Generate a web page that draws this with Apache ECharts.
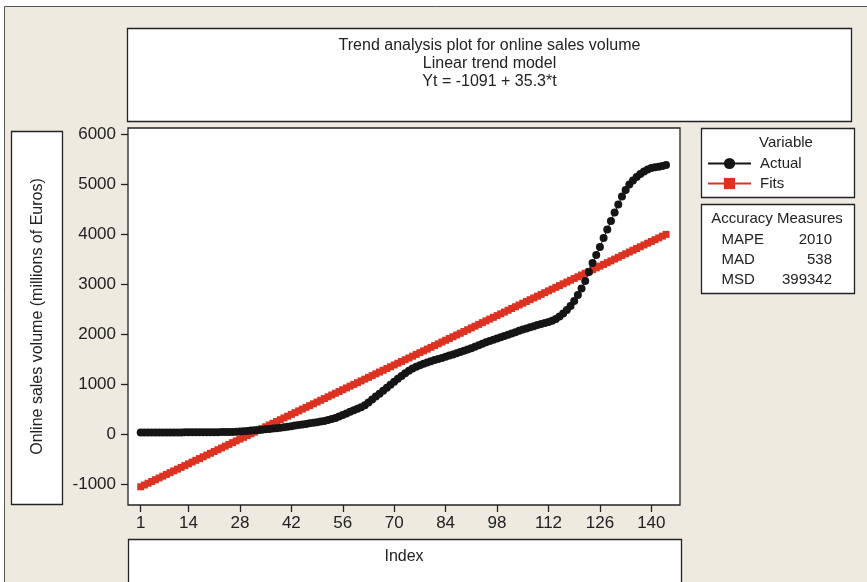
<!DOCTYPE html>
<html>
<head>
<meta charset="utf-8">
<script src="https://cdn.jsdelivr.net/npm/echarts@6/dist/echarts.min.js"></script>
<style>html,body{margin:0;padding:0;background:#fff}#c{width:867px;height:582px}</style>
</head>
<body>
<div id="c"></div>
<script>
// ---- data ----
const actual = [
  28,29,29,30,30,30,31,31,31,32,
  32,32,33,33,33,34,34,35,35,36,
  36,37,38,39,40,42,45,50,55,62,
  68,74,80,86,93,100,108,116,125,135,
  146,157,168,180,191,202,213,224,236,248,
  262,278,298,322,350,380,412,445,475,505,
  535,575,630,690,750,805,865,925,985,1045,
  1105,1160,1215,1265,1310,1345,1375,1405,1430,1455,
  1478,1500,1522,1545,1568,1590,1615,1640,1665,1690,
  1715,1745,1775,1805,1835,1860,1885,1910,1935,1960,
  1985,2010,2035,2065,2090,2110,2135,2155,2180,2200,
  2220,2240,2265,2300,2350,2410,2480,2560,2660,2780,
  2910,3060,3240,3420,3580,3740,3920,4090,4260,4430,
  4590,4750,4880,4990,5070,5140,5200,5250,5290,5320,
  5335,5345,5360,5380
];
const fits = [
  -1055.7,-1020.4,-985.1,-949.8,-914.5,-879.2,-843.9,-808.6,-773.3,-738.0,
  -702.7,-667.4,-632.1,-596.8,-561.5,-526.2,-490.9,-455.6,-420.3,-385.0,
  -349.7,-314.4,-279.1,-243.8,-208.5,-173.2,-137.9,-102.6,-67.3,-32.0,
  3.3,38.6,73.9,109.2,144.5,179.8,215.1,250.4,285.7,321.0,
  356.3,391.6,426.9,462.2,497.5,532.8,568.1,603.4,638.7,674.0,
  709.3,744.6,779.9,815.2,850.5,885.8,921.1,956.4,991.7,1027.0,
  1062.3,1097.6,1132.9,1168.2,1203.5,1238.8,1274.1,1309.4,1344.7,1380.0,
  1415.3,1450.6,1485.9,1521.2,1556.5,1591.8,1627.1,1662.4,1697.7,1733.0,
  1768.3,1803.6,1838.9,1874.2,1909.5,1944.8,1980.1,2015.4,2050.7,2086.0,
  2121.3,2156.6,2191.9,2227.2,2262.5,2297.8,2333.1,2368.4,2403.7,2439.0,
  2474.3,2509.6,2544.9,2580.2,2615.5,2650.8,2686.1,2721.4,2756.7,2792.0,
  2827.3,2862.6,2897.9,2933.2,2968.5,3003.8,3039.1,3074.4,3109.7,3145.0,
  3180.3,3215.6,3250.9,3286.2,3321.5,3356.8,3392.1,3427.4,3462.7,3498.0,
  3533.3,3568.6,3603.9,3639.2,3674.5,3709.8,3745.1,3780.4,3815.7,3851.0,
  3886.3,3921.6,3956.9,3992.2
];
const xTicks = [1,14,28,42,56,70,84,98,112,126,140];
const yTicks = [-1000,0,1000,2000,3000,4000,5000,6000];
const titleLines = ['Trend analysis plot for online sales volume','Linear trend model','Yt = -1091 + 35.3*t'];
const measureNames = ['MAPE','MAD','MSD'];
const measureValues = ['2010','538','399342'];

// ---- chart ----
const FONT = '"Liberation Sans", Arial, sans-serif';
const TXT = '#222';
const RED = '#dd3222';
const BLK = '#151515';

const toPairs = arr => arr.map((v, i) => [i + 1, v]);

const graphics = [
  { type: 'rect', z: -10, shape: { x: 4.5, y: 6.5, width: 900, height: 600 },
    style: { fill: '#eeeae0', stroke: '#555', lineWidth: 1 }, silent: true },
  { type: 'rect', shape: { x: 127.5, y: 28.5, width: 724, height: 93 },
    style: { fill: '#fff', stroke: '#222', lineWidth: 1.3 } },
  { type: 'rect', shape: { x: 11.5, y: 131.5, width: 51, height: 373 },
    style: { fill: '#fff', stroke: '#222', lineWidth: 1.3 } },
  { type: 'rect', shape: { x: 128.5, y: 539.5, width: 553, height: 80 },
    style: { fill: '#fff', stroke: '#222', lineWidth: 1.3 } },
  { type: 'rect', shape: { x: 701.5, y: 128.5, width: 153, height: 69 },
    style: { fill: '#fff', stroke: '#222', lineWidth: 1.3 } },
  { type: 'rect', shape: { x: 701.5, y: 204.5, width: 153, height: 89 },
    style: { fill: '#fff', stroke: '#222', lineWidth: 1.3 } },
  { type: 'text', x: 786, y: 142.5, style: { text: 'Variable', font: '15px ' + FONT, fill: TXT, textAlign: 'center', textVerticalAlign: 'middle' } },
  { type: 'text', x: 777, y: 218.5, style: { text: 'Accuracy Measures', font: '15px ' + FONT, fill: TXT, textAlign: 'center', textVerticalAlign: 'middle' } }
];
titleLines.forEach((t, i) => {
  graphics.push({ type: 'text', x: 489.5, y: 45.5 + i * 18,
    style: { text: t, font: '16px ' + FONT, fill: TXT, textAlign: 'center', textVerticalAlign: 'middle' } });
});
measureNames.forEach((t, i) => {
  const y = 239.5 + i * 20.4;
  graphics.push({ type: 'text', x: 721.5, y: y,
    style: { text: t, font: '15px ' + FONT, fill: TXT, textAlign: 'left', textVerticalAlign: 'middle' } });
  graphics.push({ type: 'text', x: 832, y: y,
    style: { text: measureValues[i], font: '15px ' + FONT, fill: TXT, textAlign: 'right', textVerticalAlign: 'middle' } });
});

const chart = echarts.init(document.getElementById('c'), null, { renderer: 'canvas' });
chart.setOption({
  backgroundColor: '#fff',
  animation: false,
  textStyle: { fontFamily: FONT },
  graphic: graphics,
  grid: { left: 128, top: 128, right: 187, bottom: 77, show: true,
    backgroundColor: '#fff', borderColor: '#222', borderWidth: 1.3, containLabel: false },
  legend: {
    orient: 'vertical', left: 707, top: 156, padding: 0, itemWidth: 43, itemHeight: 14, itemGap: 5,
    textStyle: { fontSize: 15, color: TXT, fontFamily: FONT, padding: [0, 0, 0, 4] },
    data: ['Actual', 'Fits']
  },
  xAxis: {
    type: 'value', min: -2.46, max: 147.8,
    name: 'Index', nameLocation: 'middle', nameGap: 44,
    nameTextStyle: { fontSize: 16, color: TXT, fontFamily: FONT },
    axisLine: { show: false, onZero: false },
    splitLine: { show: false },
    axisTick: { show: true, inside: false, length: 7, customValues: xTicks, lineStyle: { color: '#222', width: 1.3 } },
    axisLabel: { customValues: xTicks, fontSize: 17, color: TXT, margin: 10, fontFamily: FONT,
      formatter: v => String(v) }
  },
  yAxis: {
    type: 'value', min: -1420, max: 6120,
    name: 'Online sales volume (millions of Euros)', nameLocation: 'middle', nameGap: 82, nameRotate: 90,
    nameTextStyle: { fontSize: 16, color: TXT, fontFamily: FONT },
    axisLine: { show: false, onZero: false },
    splitLine: { show: false },
    axisTick: { show: true, inside: false, length: 7, customValues: yTicks, lineStyle: { color: '#222', width: 1.3 } },
    axisLabel: { customValues: yTicks, fontSize: 17, color: TXT, margin: 12, fontFamily: FONT,
      formatter: v => String(v) }
  },
  series: [
    { name: 'Fits', type: 'line', data: toPairs(fits), symbol: 'rect', symbolSize: 7,
      itemStyle: { color: RED }, lineStyle: { color: RED, width: 1 }, z: 3 },
    { name: 'Actual', type: 'line', data: toPairs(actual), symbol: 'circle', symbolSize: 8,
      itemStyle: { color: BLK }, lineStyle: { color: BLK, width: 1 }, z: 4 }
  ]
});
</script>
</body>
</html>
